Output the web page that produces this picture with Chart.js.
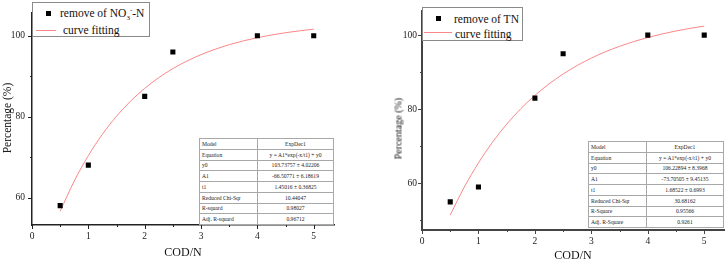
<!DOCTYPE html>
<html>
<head>
<meta charset="utf-8">
<script src="https://cdn.jsdelivr.net/npm/chart.js@4"></script>
<style>
  body { margin: 0; background: #fff; }
  #wrap { position: relative; width: 727px; height: 264px; overflow: hidden; font-family: "Liberation Serif", "Times New Roman", serif; }
  .panel { position: absolute; top: 0; height: 264px; }
  .panel canvas { position: absolute; left: 0; top: 0; }
  .ytitle { position: absolute; width: 120px; margin-left: -60px; text-align: center; color: #111; white-space: nowrap; transform: rotate(-90deg); }
  .legend { position: absolute; border: 1px solid #8a8a8a; background: #fff; box-sizing: border-box; }
  .legend .item { position: absolute; font-size: 11.5px; line-height: 12px; color: #111; white-space: nowrap; }
  .legend .mk { position: absolute; width: 5px; height: 5px; background: #000; }
  .legend .ln { position: absolute; height: 1px; background: rgb(250, 135, 135); }
  .legend sub, .legend sup { font-size: 7px; line-height: 0; }
  table.fit { position: absolute; border-collapse: collapse; background: #fff; table-layout: fixed; }
  table.fit td { border: 1px solid #a8a8a8; font-size: 5.6px; line-height: 6px; color: #222; padding: 0 2px; white-space: nowrap; overflow: hidden; }
  table.fit td.v { text-align: center; }
</style>
</head>
<body>
<div id="wrap">
  <div class="panel" id="p1" style="left:0;width:360px">
    <canvas id="c1" width="360" height="264"></canvas>
    <div class="ytitle" style="left:7px;top:111px;font-size:11.5px;line-height:14px">Percentage (%)</div>
    <div class="legend" style="left:32px;top:2px;width:118px;height:35px">
      <span class="mk" style="left:13px;top:8px"></span>
      <span class="item" style="left:27px;top:4px">remove of NO<sub>3</sub><sup>-</sup>-N</span>
      <span class="ln" style="left:3px;width:20px;top:27px"></span>
      <span class="item" style="left:30px;top:21px">curve fitting</span>
    </div>
    <table class="fit" id="t1" style="left:199px;top:138px;width:135px;height:87px"></table>
  </div>
  <div class="panel" id="p2" style="left:360px;width:367px">
    <canvas id="c2" width="367" height="264"></canvas>
    <div class="ytitle" style="left:38px;top:122px;font-size:10px;line-height:13px">Percentage (%)</div>
    <div class="legend" style="left:62px;top:7px;width:101px;height:34px">
      <span class="mk" style="left:13px;top:8px"></span>
      <span class="item" style="left:31px;top:5px">remove of TN</span>
      <span class="ln" style="left:1px;width:28px;top:24px"></span>
      <span class="item" style="left:32px;top:20px">curve fitting</span>
    </div>
    <table class="fit" id="t2" style="left:228px;top:141px;width:136px;height:87px"></table>
  </div>
</div>
<script>
// measured points
const codN = [0.5, 1, 2, 2.5, 4, 5];
const no3Removal = [58, 68, 85, 96, 100, 100];
const tnRemoval = [55, 59, 83, 95, 100, 100];

// fitted curves
const fitX = [0.5, 0.75, 1, 1.25, 1.5, 1.75, 2, 2.25, 2.5, 2.75, 3, 3.25, 3.5, 3.75, 4, 4.25, 4.5, 4.75, 5];
const no3Fit = [56.63, 64.08, 70.36, 75.65, 80.10, 83.84, 86.99, 89.64, 91.87, 93.75, 95.33, 96.66, 97.78, 98.73, 99.52, 100.19, 100.75, 101.22, 101.62];
const tnFit = [51.45, 59.00, 65.51, 71.12, 75.96, 80.14, 83.73, 86.84, 89.51, 91.81, 93.80, 95.52, 96.99, 98.27, 99.36, 100.31, 101.13, 101.83, 102.44];

// axes
const xTicks = [0, 0.5, 1, 1.5, 2, 2.5, 3, 3.5, 4, 4.5, 5];
const xLabels = [0, 1, 2, 3, 4, 5];
const no3YTicks = [60, 70, 80, 90, 100];
const tnYTicks = [50, 60, 70, 80, 90, 100];
const yLabels = [60, 80, 100];

// fit tables
const tableKeys = ['Model', 'Equation', 'y0', 'A1', 't1', 'Reduced Chi-Sqr'];
const no3Table = ['ExpDec1', 'y = A1*exp(-x/t1) + y0', '103.73757 \u00b1 4.02206', '-66.50771 \u00b1 6.18619', '1.45016 \u00b1 0.36825', '10.44047', '0.98027', '0.96712'];
const tnTable = ['ExpDec1', 'y = A1*exp(-x/t1) + y0', '106.22894 \u00b1 8.3968', '-73.70505 \u00b1 9.45135', '1.68522 \u00b1 0.6993', '30.68162', '0.95566', '0.9261'];

const serif = '"Liberation Serif", "Times New Roman", serif';
const curveColor = 'rgb(250, 135, 135)';

function fillTable(id, keys, vals) {
  const t = document.getElementById(id);
  keys.forEach((k, i) => {
    const tr = document.createElement('tr');
    const a = document.createElement('td');
    a.textContent = k;
    a.style.width = '53px';
    const b = document.createElement('td');
    b.className = 'v';
    b.textContent = vals[i];
    tr.appendChild(a);
    tr.appendChild(b);
    t.appendChild(tr);
  });
}
fillTable('t1', tableKeys.concat(['R-squard', 'Adj. R-squard']), no3Table);
fillTable('t2', tableKeys.concat(['R-Square', 'Adj. R-Square']), tnTable);

// Origin style ticks: long for labelled values, short for minor ones
const axisTicks = {
  id: 'axisTicks',
  afterDraw(chart, args, opts) {
    const ctx = chart.ctx;
    const { x, y } = chart.scales;
    ctx.save();
    ctx.strokeStyle = opts.color;
    ctx.lineWidth = 1;
    x.ticks.forEach(t => {
      const px = Math.round(x.getPixelForValue(t.value)) + 0.5;
      const len = xLabels.includes(t.value) ? 4 : 2;
      ctx.beginPath();
      ctx.moveTo(px, x.top);
      ctx.lineTo(px, x.top + len);
      ctx.stroke();
    });
    y.ticks.forEach(t => {
      const py = Math.round(y.getPixelForValue(t.value)) + 0.5;
      const len = yLabels.includes(t.value) ? 4 : 2;
      ctx.beginPath();
      ctx.moveTo(y.right - len, py);
      ctx.lineTo(y.right, py);
      ctx.stroke();
    });
    ctx.restore();
  }
};

function makeChart(id, s) {
  return new Chart(document.getElementById(id), {
    type: 'scatter',
    data: {
      datasets: [
        {
          label: 'points',
          data: codN.map((v, i) => ({ x: v, y: s.points[i] })),
          pointStyle: 'rect',
          pointRadius: 3.6,
          pointHoverRadius: 3.6,
          backgroundColor: '#000',
          borderColor: '#000',
          borderWidth: 0,
          showLine: false,
          order: 1,
        },
        {
          label: 'curve fitting',
          data: fitX.map((v, i) => ({ x: v, y: s.fit[i] })),
          showLine: true,
          pointRadius: 0,
          borderColor: curveColor,
          borderWidth: 1,
          cubicInterpolationMode: 'monotone',
          order: 2,
        },
      ],
    },
    options: {
      responsive: false,
      animation: false,
      events: [],
      layout: { autoPadding: false, padding: s.padding },
      plugins: {
        legend: { display: false },
        tooltip: { enabled: false },
        axisTicks: { color: s.axisColor },
      },
      scales: {
        x: {
          type: 'linear',
          min: 0,
          max: s.xMax,
          afterBuildTicks: sc => { sc.ticks = xTicks.map(v => ({ value: v })); },
          afterFit: sc => { sc.height = s.xHeight; },
          grid: { drawOnChartArea: false, drawTicks: false },
          border: { display: true, color: s.axisColor, width: s.axisWidth },
          ticks: {
            autoSkip: false,
            maxRotation: 0,
            padding: 6,
            color: '#222',
            font: { family: serif, size: 9.5 },
            callback: v => (xLabels.includes(v) ? String(v) : ''),
          },
          title: {
            display: true,
            text: 'COD/N',
            color: '#111',
            font: { family: serif, size: 12 },
            padding: { top: 0, bottom: s.xTitlePad },
          },
        },
        y: {
          type: 'linear',
          min: s.yMin,
          max: s.yMax,
          afterBuildTicks: sc => { sc.ticks = s.yTicks.map(v => ({ value: v })); },
          afterFit: sc => { sc.width = s.yWidth; },
          grid: { drawOnChartArea: false, drawTicks: false },
          border: { display: true, color: s.axisColor, width: s.axisWidth },
          ticks: {
            padding: s.yTickPad,
            color: '#222',
            font: { family: serif, size: 9.5 },
            callback: v => (yLabels.includes(v) ? String(v) : ''),
          },
          title: { display: false },
        },
      },
    },
    plugins: [axisTicks],
  });
}

makeChart('c1', {
  points: no3Removal, fit: no3Fit,
  xMax: 5.36, yMin: 53.2, yMax: 105.7, yTicks: no3YTicks,
  padding: { left: 0, right: 26, top: 1, bottom: 0 },
  yWidth: 32, xHeight: 39, yTickPad: 7, xTitlePad: 4,
  axisColor: '#222', axisWidth: 1.5,
});
makeChart('c2', {
  points: tnRemoval, fit: tnFit,
  xMax: 5.35, yMin: 47.4, yMax: 106.6, yTicks: tnYTicks,
  padding: { left: 31, right: 3, top: 7, bottom: 0 },
  yWidth: 31, xHeight: 34, yTickPad: 5, xTitlePad: 1,
  axisColor: '#444', axisWidth: 2,
});
</script>
</body>
</html>
